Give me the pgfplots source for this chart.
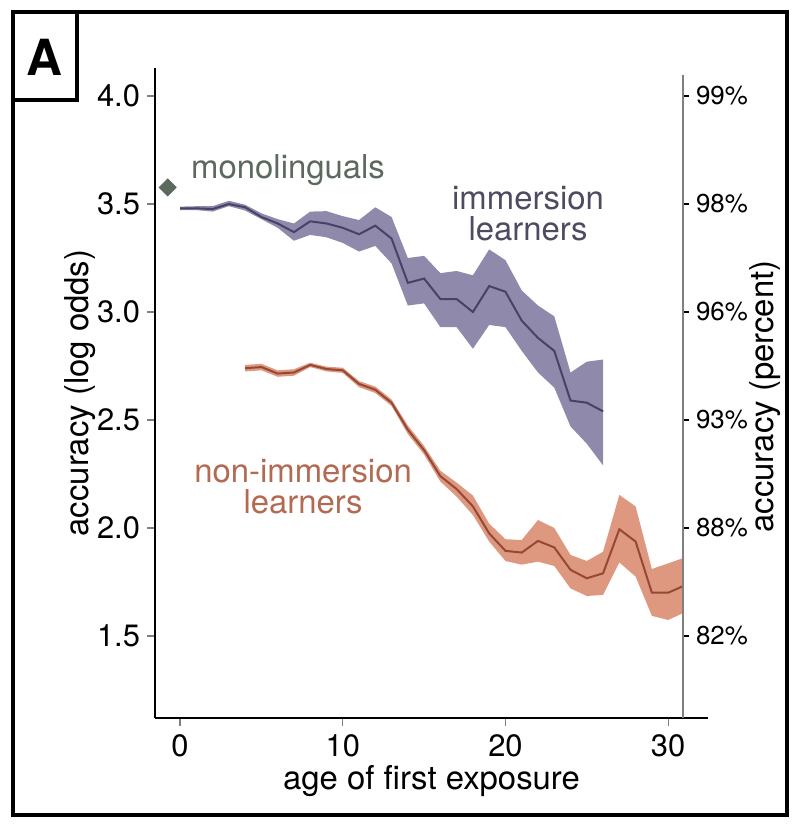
\documentclass[border=0pt]{standalone}
\usepackage{fontspec}
\setmainfont{TeX Gyre Heros}
\usepackage{pgfplots}
\usepackage{pgfplotstable}
\pgfplotsset{compat=1.18}
\usepgfplotslibrary{fillbetween}

\definecolor{imfill}{RGB}{143,138,172}
\definecolor{imline}{RGB}{72,66,104}
\definecolor{imtext}{RGB}{78,75,96}
\definecolor{nifill}{RGB}{223,152,128}
\definecolor{niline}{RGB}{150,72,52}
\definecolor{nitext}{RGB}{178,106,82}
\definecolor{mono}{RGB}{92,106,94}

\pgfplotstableread{
x y lo hi
0 3.48 3.472 3.488
1 3.48 3.472 3.490
2 3.477 3.465 3.490
3 3.500 3.490 3.515
4 3.485 3.470 3.497
5 3.440 3.430 3.457
6 3.410 3.390 3.430
7 3.370 3.330 3.410
8 3.420 3.357 3.465
9 3.410 3.346 3.467
10 3.390 3.320 3.444
11 3.360 3.280 3.426
12 3.400 3.306 3.485
13 3.340 3.225 3.440
14 3.135 3.030 3.250
15 3.155 3.040 3.260
16 3.060 2.930 3.180
17 3.060 2.930 3.190
18 3.000 2.830 3.170
19 3.120 2.940 3.290
20 3.094 2.930 3.240
21 2.960 2.820 3.100
22 2.880 2.720 3.030
23 2.820 2.650 2.980
24 2.590 2.470 2.720
25 2.580 2.390 2.770
26 2.540 2.290 2.780
}\imm

\pgfplotstableread{
x y lo hi
4 2.740 2.725 2.755
5 2.745 2.730 2.760
6 2.715 2.700 2.730
7 2.720 2.705 2.735
8 2.755 2.745 2.765
9 2.736 2.725 2.747
10 2.730 2.718 2.742
11 2.667 2.652 2.680
12 2.640 2.625 2.655
13 2.580 2.565 2.595
14 2.455 2.435 2.475
15 2.360 2.340 2.380
16 2.240 2.215 2.265
17 2.180 2.145 2.210
18 2.100 2.060 2.150
19 1.975 1.937 2.020
20 1.894 1.847 1.948
21 1.886 1.830 1.944
22 1.940 1.844 2.037
23 1.910 1.824 2.000
24 1.806 1.720 1.875
25 1.767 1.685 1.847
26 1.790 1.690 1.890
27 1.994 1.840 2.153
28 1.937 1.775 2.100
29 1.700 1.593 1.810
30 1.700 1.574 1.836
30.9 1.730 1.605 1.860
}\nonimm

\begin{document}
\begin{tikzpicture}
\path (0bp,0bp) rectangle (400bp,414bp);
\draw[line width=2bp] (6.5bp,6.5bp) rectangle (393.5bp,408bp);
\draw[line width=2bp] (6.5bp,364bp) rectangle (38.5bp,408bp);
\node[font=\fontsize{25}{25}\selectfont\bfseries] at (22bp,385.5bp) {A};

\begin{axis}[
  at={(77.5bp,55bp)}, anchor=south west,
  scale only axis, width=276.5bp, height=325bp,
  xmin=-1.54, xmax=32.45, ymin=1.12, ymax=4.13,
  axis x line=bottom, axis y line=left,
  axis line style={-, line width=1.2bp, black},
  xtick={0,10,20,30}, ytick={1.5,2,2.5,3,3.5,4},
  yticklabel style={/pgf/number format/.cd, fixed, fixed zerofill, precision=1},
  /pgf/number format/assume math mode=true,
  tick align=outside, major tick length=4bp,
  tick style={gray, line width=0.6bp},
  ticklabel style={font=\fontsize{15.5}{18}\selectfont},
  xticklabel style={yshift=-1bp},
  label style={font=\fontsize{16.5}{19}\selectfont},
  xlabel={age of first exposure},
  ylabel={accuracy (log odds)},
  x label style={at={(axis description cs:0.5,-0.097)}, anchor=center},
  y label style={at={(axis description cs:-0.1356,0.5)}, anchor=center},
  clip=false,
]
\addplot[name path=iu, draw=none, forget plot] table[x=x,y=hi] {\imm};
\addplot[name path=il, draw=none, forget plot] table[x=x,y=lo] {\imm};
\addplot[imfill, draw=none] fill between[of=iu and il];
\addplot[imline, line width=1bp] table[x=x,y=y] {\imm};

\addplot[name path=nu, draw=none, forget plot] table[x=x,y=hi] {\nonimm};
\addplot[name path=nl, draw=none, forget plot] table[x=x,y=lo] {\nonimm};
\addplot[nifill, draw=none] fill between[of=nu and nl];
\addplot[niline, line width=1bp] table[x=x,y=y] {\nonimm};

\addplot[only marks, mark=square*, mark size=3bp, mark options={rotate=45, fill=mono, draw=mono}] coordinates {(-0.76,3.577)};

\node[font=\fontsize{16.5}{19}\selectfont, text=mono] at (axis cs:6.64,3.657) {monolinguals};
\node[font=\fontsize{16.5}{15.5}\selectfont, text=imtext, align=center] at (axis cs:21.39,3.454) {immersion\\learners};
\node[font=\fontsize{16.5}{15.5}\selectfont, text=nitext, align=center] at (axis cs:7.56,2.19) {non-immersion\\learners};
\end{axis}

\begin{axis}[
  at={(77.5bp,55bp)}, anchor=south west,
  scale only axis, width=264bp, height=321.5bp,
  xmin=-1.54, xmax=30.92, ymin=1.12, ymax=4.097,
  axis x line=none, axis y line*=right,
  axis line style={-, line width=1bp, gray},
  ytick={1.5,2,2.5,3,3.5,4},
  yticklabels={82\%,88\%,93\%,96\%,98\%,99\%},
  tick align=outside, major tick length=3bp,
  tick style={black, line width=1.2bp},
  ticklabel style={font=\fontsize{13}{15}\selectfont},
  ylabel={accuracy (percent)},
  label style={font=\fontsize{16.5}{19}\selectfont},
  y label style={at={(axis description cs:1.155,0.5)}, anchor=center},
]
\addplot[draw=none] coordinates {(0,2)};
\end{axis}
\end{tikzpicture}
\end{document}
